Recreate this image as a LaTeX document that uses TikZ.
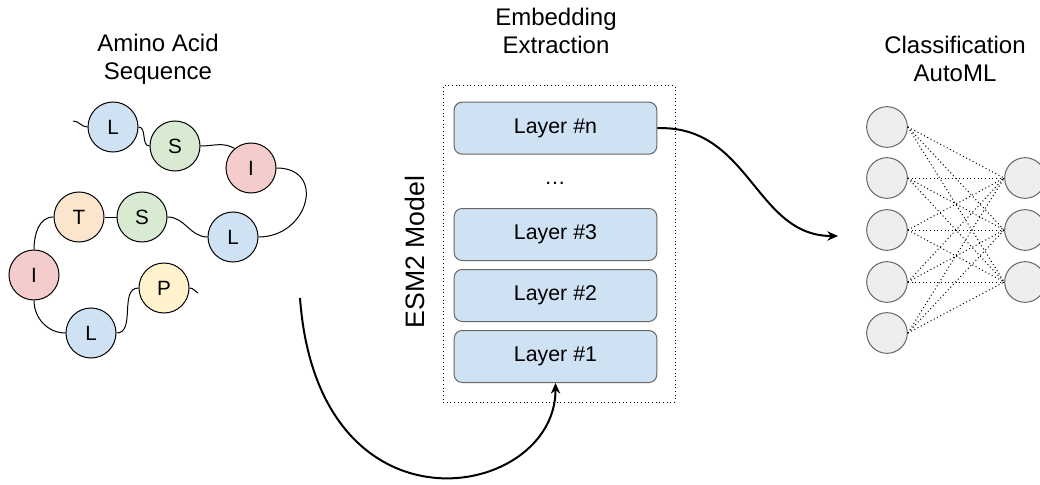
\documentclass[tikz,border=0pt]{standalone}
\usepackage{fontspec}
\setmainfont{Liberation Sans}
\usetikzlibrary{positioning,arrows.meta}
\definecolor{aablue}{HTML}{CFE2F3}
\definecolor{aagreen}{HTML}{D9EAD3}
\definecolor{aared}{HTML}{F4CCCC}
\definecolor{aaorange}{HTML}{FCE5CD}
\definecolor{aayellow}{HTML}{FFF2CC}
\definecolor{nngray}{HTML}{EEEEEE}
\definecolor{edgegray}{HTML}{666666}
\tikzset{
  acid/.style={circle, draw=black, line width=0.75pt, minimum size=37.5pt, inner sep=0pt, font=\fontsize{15.5}{18}\selectfont},
  chain/.style={line width=0.75pt},
  layer/.style={draw=edgegray, fill=aablue, rounded corners=6pt, line width=0.75pt, minimum width=152pt, minimum height=39pt, font=\fontsize{16}{19}\selectfont},
  neuron/.style={circle, draw=edgegray, fill=nngray, line width=0.75pt, minimum size=30.5pt, inner sep=0pt},
  title/.style={align=center, font=\fontsize{18}{21}\selectfont},
  flow/.style={line width=1.5pt, -{Stealth[length=8pt, width=7pt]}}
}
\begin{document}
\begin{tikzpicture}[x=0.75pt, y=-0.75pt]
			\useasboundingbox (0,0) rectangle (1040,485);
			% titles
			\node[title] (tAA) at (158,59) {Amino Acid\\Sequence};
			\node[title] (tEE) at (556,31) {Embedding\\Extraction};
			\node[title] (tCA) at (955,59) {Classification\\AutoML};
			% amino acid chain
			\node[acid, fill=aablue] (L1) at (113,127) {L};
			\node[acid, fill=aagreen] (S1) at (175,146) {S};
			\node[acid, fill=aared] (I1) at (251,168) {I};
			\node[acid, fill=aablue] (L2) at (233,237) {L};
			\node[acid, fill=aagreen] (S2) at (142,217) {S};
			\node[acid, fill=aaorange] (T1) at (79,217) {T};
			\node[acid, fill=aared] (I2) at (34,275) {I};
			\node[acid, fill=aablue] (L3) at (91,333) {L};
			\node[acid, fill=aayellow] (P1) at (164,288) {P};
			\coordinate (tail0) at (73,121);
			\coordinate (tail1) at (198,293);
			\draw[chain] (tail0) to[out=0, in=180] (L1.west);
			\draw[chain] (L1.east) to[out=0, in=180] (S1.west);
			\draw[chain] (S1.east) to[out=0, in=150] (I1.130);
			\draw[chain] (I1.east) to[out=0, in=0, looseness=1.8] (L2.east);
			\draw[chain] (L2.west) to[out=180, in=0] (S2.east);
			\draw[chain] (S2.west) -- (T1.east);
			\draw[chain] (T1.west) to[out=180, in=90] (I2.north);
			\draw[chain] (I2.south) to[out=270, in=180] (L3.west);
			\draw[chain] (L3.east) to[out=0, in=180] (P1.west);
			\draw[chain] (P1.east) to[out=0, in=150] (tail1);
			% ESM2 model
			\node[draw, dotted, line width=0.75pt, minimum width=174pt, minimum height=237pt] (esm) at (559,244) {};
			\node[layer] (lay1) at (555.5,356.5) {Layer \#1};
			\node[layer, above=6pt of lay1] (lay2) {Layer \#2};
			\node[layer, above=6pt of lay2] (lay3) {Layer \#3};
			\node[layer, above=40pt of lay3] (layn) {Layer \#n};
			\node[font=\fontsize{16}{19}\selectfont] (dots) at (555,183) {\dots};
			\node[rotate=90, font=\fontsize{20}{24}\selectfont] (esmlbl) at (415,252) {ESM2 Model};
			% classifier
			\foreach \i/\y in {1/127,2/178,3/230,4/282,5/333}
				\node[neuron] (n\i) at (887,\y) {};
			\foreach \j/\y in {1/178,2/230,3/282}
				\node[neuron] (m\j) at (1025,\y) {};
			\foreach \i in {1,...,5}
				\foreach \j in {1,2,3}
					\draw[dotted, line width=0.75pt] (n\i.east) -- (m\j.west);
			% flow arrows
			\coordinate (seqout) at (300,298);
			\coordinate (nnin) at (838,236);
			\draw[flow] (seqout) .. controls (318,545) and (556,500) .. (lay1.south);
			\draw[flow] (layn.east) .. controls (750,125) and (755,236) .. (nnin);
		\end{tikzpicture}
\end{document}
